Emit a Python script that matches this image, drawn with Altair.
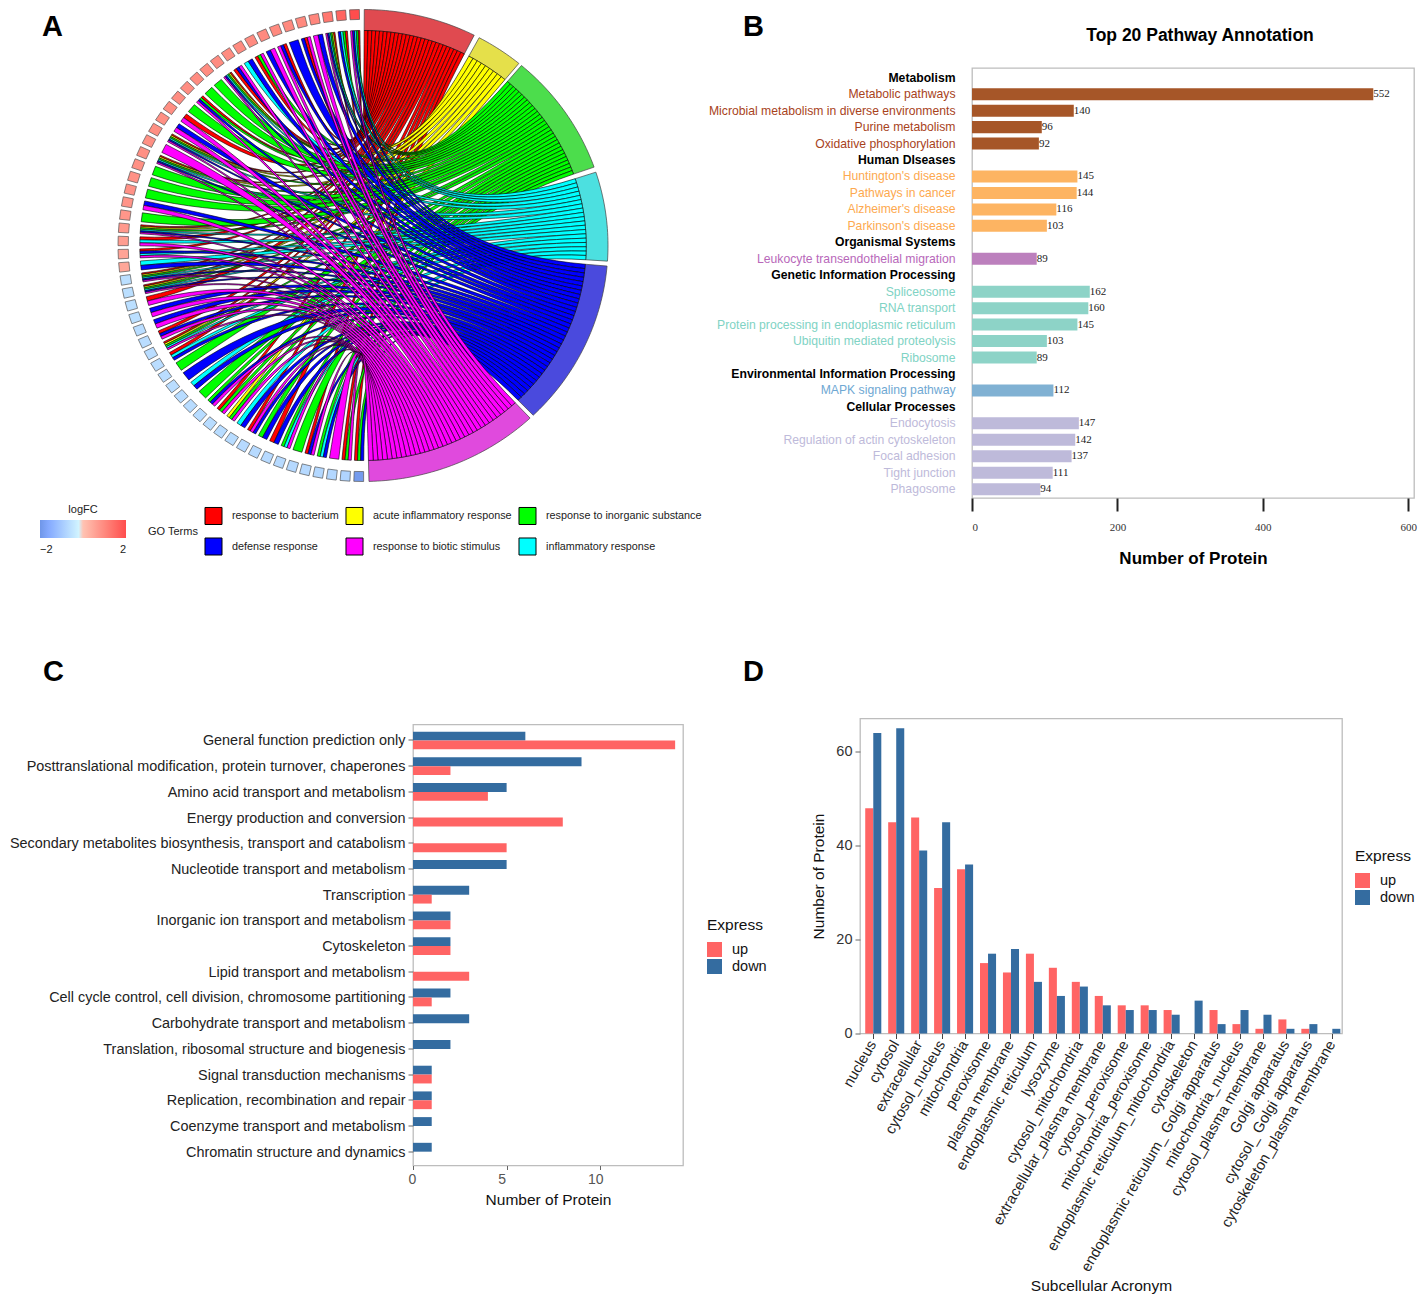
import json, math
import altair as alt

# ---------- Panel A data ----------
TERMS = ["response to bacterium", "defense response", "acute inflammatory response", "response to biotic stimulus",
         "response to inorganic substance", "inflammatory response"]
TERM_COLORS = ["#FF0000", "#0000FF", "#FFFF00", "#FF00FF", "#00FF00", "#00FFFF"]
TERM_KEY = {"R": TERMS[0], "B": TERMS[1], "Y": TERMS[2], "M": TERMS[3], "G": TERMS[4], "C": TERMS[5]}
TERM_ORDER = ["R", "Y", "G", "C", "B", "M"]
TERM_SPAN = {"R": (0.3, 27.0), "Y": (28.3, 39.5), "G": (40.3, 70.6), "C": (71.9, 93.8), "B": (95.0, 136.0), "M": (137.0, 178.6)}
BAND_COLOR = {"R": "#E04A50", "Y": "#E5E04A", "G": "#4CDD4C", "C": "#4CE0E0", "B": "#4A4ADD", "M": "#E04ADD"}
GENE_TERMS = ["RGCBM", "RGCB", "RYGCBM", "BM", "MRB", "B", "RBM", "MB", "MGR", "BC", "MBR", "RYGCBM", "G", "G",
              "RGBM", "G", "RM", "BM", "RYGCBM", "M", "RYGCBM", "G", "G", "G", "BM", "G", "RYGCBM",
              "RCM", "RBCM", "CB", "RYGCBM", "RYGCBM", "RM", "BM", "BM", "RBM", "RYGCM", "RCB", "G", "B", "CB",
              "G", "GBM", "RGM", "YGM", "CB", "RMB", "GB", "RB", "GCM", "G", "RBM", "GCB", "M", "RGM", "RGB"]
GENE_LOGFC = [2.0, 1.6, 1.3, 1.05, 1.0, 1.0, 0.98, 0.98, 0.96, 0.96, 0.95, 0.95, 0.94, 0.94, 0.92, 0.92, 0.9, 0.9, 0.9,
              0.88, 0.88, 0.86, 0.85, 0.84, 0.8, 0.78, 0.72, 0.66, 0.55, 0.48,
              -0.6, -0.6, -0.6, -0.6, -0.62, -0.62, -0.62, -0.62, -0.62, -0.62, -0.65, -0.65, -0.65, -0.65, -0.65,
              -0.65, -0.68, -0.68, -0.68, -0.68, -0.7, -0.7, -0.72, -0.75, -0.8, -1.9]

# ---------- Panel B data ----------
B_ROWS = ["Metabolism", "Metabolic pathways", "Microbial metabolism in diverse environments", "Purine metabolism",
          "Oxidative phosphorylation", "Human DIseases", "Huntington's disease", "Pathways in cancer",
          "Alzheimer's disease", "Parkinson's disease", "Organismal Systems", "Leukocyte transendothelial migration",
          "Genetic Information Processing", "Spliceosome", "RNA transport", "Protein processing in endoplasmic reticulum",
          "Ubiquitin mediated proteolysis", "Ribosome", "Environmental Information Processing", "MAPK signaling pathway",
          "Cellular Processes", "Endocytosis", "Regulation of actin cytoskeleton", "Focal adhesion", "Tight junction",
          "Phagosome"]
B_VALUES = [None, 552, 140, 96, 92, None, 145, 144, 116, 103, None, 89, None, 162, 160, 145, 103, 89, None, 112, None,
            147, 142, 137, 111, 94]
B_BAR = [None, "#A65628", "#A65628", "#A65628", "#A65628", None, "#FDB462", "#FDB462", "#FDB462", "#FDB462", None,
         "#BC80BD", None, "#8DD3C7", "#8DD3C7", "#8DD3C7", "#8DD3C7", "#8DD3C7", None, "#80B1D3", None,
         "#BEBADA", "#BEBADA", "#BEBADA", "#BEBADA", "#BEBADA"]
B_LABEL = ["#000000", "#A8431C", "#A8431C", "#A8431C", "#A8431C", "#000000", "#FDA94F", "#FDA94F", "#FDA94F", "#FDA94F",
           "#000000", "#B868BA", "#000000", "#80D3C4", "#80D3C4", "#80D3C4", "#80D3C4", "#80D3C4", "#000000", "#6FA8D3",
           "#000000", "#BEBADA", "#BEBADA", "#BEBADA", "#BEBADA", "#BEBADA"]

# ---------- Panel C data ----------
C_CATS = ["General function prediction only", "Posttranslational modification, protein turnover, chaperones",
          "Amino acid transport and metabolism", "Energy production and conversion",
          "Secondary metabolites biosynthesis, transport and catabolism", "Nucleotide transport and metabolism",
          "Transcription", "Inorganic ion transport and metabolism", "Cytoskeleton", "Lipid transport and metabolism",
          "Cell cycle control, cell division, chromosome partitioning", "Carbohydrate transport and metabolism",
          "Translation, ribosomal structure and biogenesis", "Signal transduction mechanisms",
          "Replication, recombination and repair", "Coenzyme transport and metabolism", "Chromatin structure and dynamics"]
C_UP = [14, 2, 4, 8, 5, 0, 1, 2, 2, 3, 1, 0, 0, 1, 1, 0, 0]
C_DOWN = [6, 9, 5, 0, 0, 5, 3, 2, 2, 0, 2, 3, 2, 1, 1, 1, 1]

# ---------- Panel D data ----------
D_CATS = ["nucleus", "cytosol", "extracellular", "cytosol_nucleus", "mitochondria", "peroxisome", "plasma membrane",
          "endoplasmic reticulum", "lysozyme", "cytosol_mitochondria", "extracellular_plasma membrane",
          "cytosol_peroxisome", "mitochondria_peroxisome", "endoplasmic reticulum_mitochondria", "cytoskeleton",
          "endoplasmic reticulum_ Golgi apparatus", "mitochondria_nucleus", "cytosol_plasma membrane", "Golgi apparatus",
          "cytosol_ Golgi apparatus", "cytoskeleton_plasma membrane"]
D_UP = [48, 45, 46, 31, 35, 15, 13, 17, 14, 11, 8, 6, 6, 5, 0, 5, 2, 1, 3, 1, 0]
D_DOWN = [64, 65, 39, 45, 36, 17, 18, 11, 8, 10, 6, 5, 5, 4, 7, 2, 5, 4, 1, 2, 1]

EXPRESS = ["up", "down"]
EXPRESS_COLORS = ["#FF6464", "#346CA0"]
SANS = "Liberation Sans"
SERIF = "Liberation Serif"

# ---------- chord geometry (ellipse units: pixels from the centre) ----------
RX, RY = 245.0, 236.0
R_IN, R_SQ = 0.911, 0.958


def pt(a, r=1.0):
    t = math.radians(a)
    return [round(RX * r * math.sin(t), 2), round(-RY * r * math.cos(t), 2)]


def arc(a1, a2, r, step=1.0):
    n = max(2, int(abs(a2 - a1) / step) + 2)
    return [pt(a1 + (a2 - a1) * i / (n - 1), r) for i in range(n)]


def curve(p0, p2, n=30):
    out = []
    for i in range(1, n):
        t = i / n
        out.append([round((1 - t) ** 2 * p0[0] + t * t * p2[0], 2), round((1 - t) ** 2 * p0[1] + t * t * p2[1], 2)])
    return out


def feature(ring, **props):
    return {"type": "Feature", "properties": props,
            "geometry": {"type": "Polygon", "coordinates": [ring + [ring[0]]]}}


N = len(GENE_TERMS)
G_TOP, G_BOTTOM, G_W = 358.0, 181.0, 2.4
gene_angle = [G_TOP - i * (G_TOP - G_BOTTOM) / (N - 1) for i in range(N)]

bands = []
for k in TERM_ORDER:
    a, b = TERM_SPAN[k]
    bands.append(feature(arc(a, b, 1.0) + arc(b, a, R_IN), band=BAND_COLOR[k]))

counts = {k: sum(k in g for g in GENE_TERMS) for k in TERM_ORDER}
ribbons = []
for k in TERM_ORDER:
    a, b = TERM_SPAN[k]
    u = (b - a) / counts[k]
    pos = 0
    for i, g in enumerate(GENE_TERMS):
        if k not in g:
            continue
        j = g.index(k)
        w = G_W / len(g)
        g1 = gene_angle[i] + G_W / 2 - j * w
        g2 = g1 - w
        t1, t2 = a + pos * u, a + (pos + 1) * u
        pos += 1
        ring = [pt(g1, R_IN)] + curve(pt(g1, R_IN), pt(t1, R_IN)) + arc(t1, t2, R_IN, 0.5) \
            + curve(pt(t2, R_IN), pt(g2, R_IN)) + [pt(g2, R_IN)]
        ribbons.append(feature(ring, term=TERM_KEY[k]))

squares = []
HALF = 1.15
for a, v in zip(gene_angle, GENE_LOGFC):
    squares.append(feature([pt(a - HALF, R_SQ), pt(a + HALF, R_SQ), pt(a + HALF, 1.0), pt(a - HALF, 1.0)], logFC=v))

# ---------- layout: origin of each plot on the page ----------
A_O = (413, 67)
PROJ = dict(type="identity", scale=1, translate=[363 - A_O[0], 244.5 - A_O[1]])


def letter(s, dx, dy):
    return alt.Chart(alt.Data(values=[{"t": s}])).mark_text(
        text=s, font=SANS, fontSize=29, fontWeight="bold", align="left", baseline="alphabetic", color="black"
    ).encode(x=alt.value(dx), y=alt.value(dy))


band_layer = alt.Chart(alt.Data(values=bands)).mark_geoshape(stroke="#444444", strokeWidth=0.7, clip=False).encode(
    fill=alt.Color("properties.band:N", scale=None)).project(**PROJ)
rib_layer = alt.Chart(alt.Data(values=ribbons)).mark_geoshape(stroke="black", strokeWidth=0.6, clip=False).encode(
    fill=alt.Color("properties.term:N", scale=alt.Scale(domain=TERMS, range=TERM_COLORS),
                   legend=alt.Legend(title="GO Terms", orient="none", legendX=148 - A_O[0], legendY=505 - A_O[1],
                                     columns=3, titleOrient="left", symbolType="square", symbolSize=290,
                                     symbolStrokeColor="black", symbolStrokeWidth=1, rowPadding=8, columnPadding=4,
                                     labelFontSize=10.8, titleFontSize=11, titleFontWeight="normal", labelLimit=250,
                                     labelOffset=9, titleColor="#222222", labelColor="#222222"))).project(**PROJ)
sq_layer = alt.Chart(alt.Data(values=squares)).mark_geoshape(stroke="#555555", strokeWidth=0.7, clip=False).encode(
    fill=alt.Color("properties.logFC:Q", scale=alt.Scale(domain=[-2, 0, 2], range=["#6F96E8", "#FFFFFF", "#FF4D4D"]),
                   legend=alt.Legend(title="logFC", orient="none", legendX=40 - A_O[0], legendY=503 - A_O[1],
                                     direction="horizontal", gradientLength=86, gradientThickness=18, values=[-2, 2],
                                     titleAnchor="middle", labelFontSize=11, titleFontSize=11, titleFontWeight="normal",
                                     labelOffset=6, titleColor="#222222", labelColor="#222222",
                                     gradientStrokeWidth=0))).project(**PROJ)
panel_a = alt.layer(band_layer, rib_layer, sq_layer, letter("A", 42 - A_O[0], 34.5 - A_O[1])).resolve_scale(
    color="independent", fill="independent").properties(
    width=382, height=436, view=alt.ViewBackground(stroke="transparent"))

# ---------- panel B ----------
B_O = (972, 67)
b_rows = [{"name": n, "n": v, "c": c} for n, v, c in zip(B_ROWS, B_VALUES, B_BAR)]
color_lookup = json.dumps(dict(zip(B_ROWS, B_LABEL)))
headers = json.dumps([n for n, v in zip(B_ROWS, B_VALUES) if v is None])
by = alt.Y("name:N", sort=B_ROWS, scale=alt.Scale(domain=B_ROWS, paddingInner=0.27, paddingOuter=0.2, align=0.57),
           axis=alt.Axis(title=None, ticks=False, domain=False, labelFontSize=12.2, labelFont=SANS, labelPadding=17,
                         labelLimit=400, labelColor=alt.expr(color_lookup + "[datum.value]"),
                         labelFontWeight=alt.expr("indexof(" + headers + ", datum.value) >= 0 ? 'bold' : 'normal'")))
bx = alt.X("n:Q", scale=alt.Scale(domain=[0, 608], nice=False),
           axis=alt.Axis(values=[0, 200, 400, 600], title="Number of Protein", grid=False, domain=False, tickColor="#222222",
                         tickWidth=2, tickSize=13, labelFont=SERIF, labelFontSize=11, labelColor="#333333", labelPadding=10,
                         titleFontSize=17, titleFontWeight="bold", titleFont=SANS, titleColor="black", titlePadding=18))
b_base = alt.Chart(alt.Data(values=b_rows))
b_bars = b_base.mark_bar().encode(x=bx, y=by, fill=alt.Color("c:N", scale=None))
b_text = b_base.transform_filter("isValid(datum.n)").mark_text(
    font=SERIF, fontSize=11, align="left", dx=0, color="#222222").encode(x=bx, y=by, text="n:Q")
b_title = alt.Chart(alt.Data(values=[{"t": 1}])).mark_text(
    text="Top 20 Pathway Annotation", font=SANS, fontSize=17.5, fontWeight="bold", color="black", align="center",
    baseline="alphabetic").encode(x=alt.value(1200 - B_O[0]), y=alt.value(40 - B_O[1]))
panel_b = alt.layer(b_bars, b_text, b_title, letter("B", 743 - B_O[0], 34.5 - B_O[1])).properties(width=442, height=430)

# ---------- panel C ----------
C_O = (413, 725)
c_rows = [{"cat": c, "Express": e, "n": v} for c, u, d in zip(C_CATS, C_UP, C_DOWN) for e, v in (("down", d), ("up", u))]
express_color = alt.Scale(domain=EXPRESS, range=EXPRESS_COLORS)


def express_legend(x, y):
    return alt.Legend(title="Express", orient="none", legendX=x, legendY=y, symbolType="square", symbolSize=225,
                      symbolStrokeWidth=0, rowPadding=1, columnPadding=0, padding=0, titleFontSize=15.5,
                      titleFontWeight="normal", labelFontSize=14.5, labelOffset=10, titleColor="#111111",
                      labelColor="#111111", titlePadding=9)


c_bars = alt.Chart(alt.Data(values=c_rows)).mark_bar().encode(
    y=alt.Y("cat:N", sort=C_CATS, scale=alt.Scale(domain=C_CATS, paddingInner=0.31, paddingOuter=0.235, align=0.59),
            axis=alt.Axis(title=None, labelFontSize=14.42, labelFont=SANS, labelColor="#222222", labelLimit=500,
                          tickSize=5, tickColor="#666666", labelPadding=3, labelOffset=1, domain=False)),
    yOffset=alt.YOffset("Express:N", sort=["down", "up"], scale=alt.Scale(domain=["down", "up"])),
    x=alt.X("n:Q", scale=alt.Scale(domain=[0, 14.42], nice=False),
            axis=alt.Axis(values=[0, 5, 10], title="Number of Protein", grid=False, domain=False, tickSize=4,
                          tickColor="#666666", labelFontSize=14, labelColor="#555555", labelOffset=-5, labelPadding=3,
                          titleFontSize=15.5, titleFontWeight="normal", titleColor="#111111", titlePadding=6)),
    color=alt.Color("Express:N", scale=express_color, legend=express_legend(707 - C_O[0], 918 - C_O[1])))
panel_c = alt.layer(c_bars, letter("C", 43 - C_O[0], 681 - C_O[1])).properties(width=270, height=441)

# ---------- panel D ----------
D_O = (860, 719)
d_rows = [{"cat": c, "Express": e, "n": v} for c, u, d in zip(D_CATS, D_UP, D_DOWN) for e, v in (("up", u), ("down", d))]
d_bars = alt.Chart(alt.Data(values=d_rows)).mark_bar().encode(
    x=alt.X("cat:N", sort=D_CATS, scale=alt.Scale(domain=D_CATS, paddingInner=0.3, paddingOuter=0.15, align=0.76),
            axis=alt.Axis(title="Subcellular Acronym", labelAngle=300, labelAlign="right", labelBaseline="middle",
                          labelFontSize=14.8, labelFont=SANS, labelColor="#222222", labelLimit=400, tickSize=5,
                          tickColor="#444444", labelPadding=3, domain=False, titleFontSize=15.5, titleFontWeight="normal",
                          titleColor="#111111", titleY=245)),
    xOffset=alt.XOffset("Express:N", sort=EXPRESS, scale=alt.Scale(domain=EXPRESS)),
    y=alt.Y("n:Q", scale=alt.Scale(domain=[0, 67.1], nice=False),
            axis=alt.Axis(values=[0, 20, 40, 60], title="Number of Protein", grid=False, domain=False, tickSize=5,
                          tickColor="#666666", labelFontSize=14.5, labelColor="#333333", labelPadding=3,
                          titleFontSize=15.5, titleFontWeight="normal", titleColor="#111111", titlePadding=9)),
    color=alt.Color("Express:N", scale=express_color, legend=express_legend(1355 - D_O[0], 849 - D_O[1])))
panel_d = alt.layer(d_bars, letter("D", 743 - D_O[0], 681 - D_O[1])).properties(width=482, height=315)


def indep(c):
    return c.resolve_scale(color="independent", fill="independent").resolve_legend(color="independent", fill="independent")


spacer = alt.Chart(alt.Data(values=[{"a": 1}])).mark_point(opacity=0).properties(
    width=1, height=1, view=alt.ViewBackground(stroke="transparent"))
left_bottom = indep(alt.vconcat(spacer, panel_c, bounds="flush", spacing=5))
top = indep(alt.hconcat(panel_a, panel_b, bounds="flush", spacing=177))
bottom = indep(alt.hconcat(left_bottom, panel_d, bounds="flush", spacing=447))
chart = indep(alt.vconcat(top, bottom, bounds="flush", spacing=650.5)).properties(
    padding={"top": -1, "left": 0, "right": 0, "bottom": 0}, background="white"
).configure(font=SANS).configure_view(stroke="#BDBDBD", strokeWidth=1.3).configure_axis(grid=False)

chart.save("out.html", embed_options={"renderer": "svg", "actions": False})
